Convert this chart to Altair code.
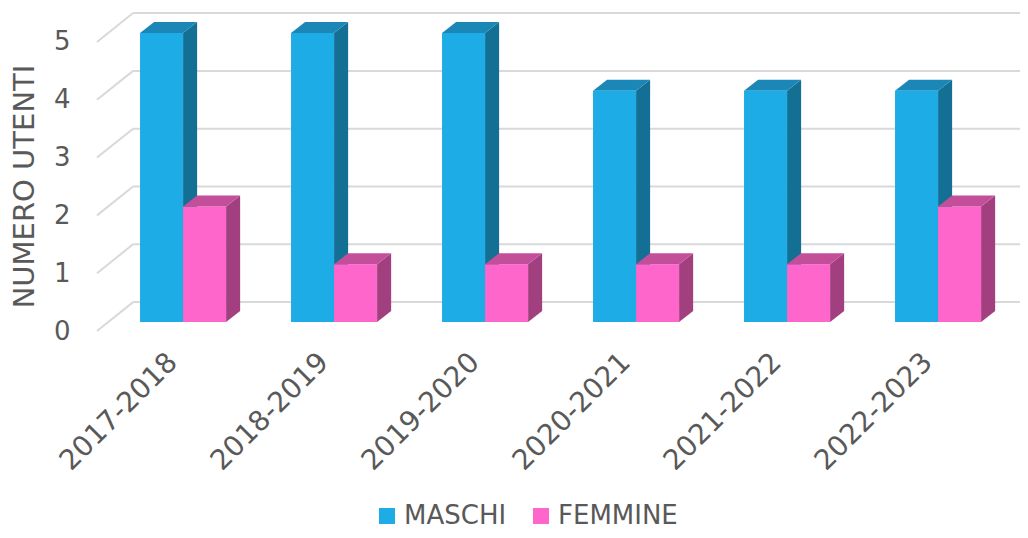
import altair as alt
import pandas as pd

# ---- data -------------------------------------------------------------
categories = ["2017-2018", "2018-2019", "2019-2020", "2020-2021", "2021-2022", "2022-2023"]
maschi = [5, 5, 5, 4, 4, 4]
femmine = [2, 1, 1, 1, 1, 2]
series = ["MASCHI", "FEMMINE"]
tick_values = [0, 1, 2, 3, 4, 5]

# ---- style ------------------------------------------------------------
FONT = "DejaVu Sans"
TEXT = "#595959"
GRID = "#D9D9D9"
FRONT = {"MASCHI": "#1DACE5", "FEMMINE": "#FF66CC"}
SIDE = {"MASCHI": "#136F93", "FEMMINE": "#A2407F"}
TOP = {"MASCHI": "#1A87B6", "FEMMINE": "#C34F9B"}

# 3D geometry, in scale units (x: one unit per category, y: data units)
BAR_W = 0.285
DX = 0.093
DY = 0.19
BASE = 0.156
BACK = 0.5
BACK_X = -0.046
X_MIN, X_MAX = -0.285, 5.8276
Y_MAX = 5.588
LABEL_DX = 0.22
LABEL_Y = -0.47

fronts, sides, tops, labels = [], [], [], []
for i, cat in enumerate(categories):
    labels.append(dict(cat=cat, x=i + LABEL_DX, y=LABEL_Y))
    for j, (s, vals) in enumerate(zip(series, [maschi, femmine])):
        x0 = i + j * BAR_W
        x1 = x0 + BAR_W
        y0 = BASE
        y1 = BASE + vals[i]
        fid = f"{s}-{i}"
        fronts.append(dict(serie=s, cat=cat, valore=vals[i], x0=x0, x1=x1, y0=y0, y1=y1))
        sides += [
            dict(serie=s, face=fid, x=x1, y=y1, y2=y0),
            dict(serie=s, face=fid, x=x1 + DX, y=y1 + DY, y2=y0 + DY),
        ]
        tops += [
            dict(serie=s, face=fid, x=x0, y=y1, y2=y1),
            dict(serie=s, face=fid, x=x0 + DX, y=y1 + DY, y2=y1),
            dict(serie=s, face=fid, x=x1, y=y1 + DY, y2=y1),
            dict(serie=s, face=fid, x=x1 + DX, y=y1 + DY, y2=y1 + DY),
        ]

grid = pd.DataFrame(
    [dict(k=k, xs=X_MIN, ys=k, xb=BACK_X, yb=k + BACK, xe=X_MAX) for k in tick_values]
)
df_front = pd.DataFrame(fronts)
df_side = pd.DataFrame(sides)
df_top = pd.DataFrame(tops)
df_lab = pd.DataFrame(labels)

xs = alt.Scale(domain=[X_MIN, X_MAX], nice=False, zero=False)
ys = alt.Scale(domain=[0, Y_MAX], nice=False, zero=False)

y_axis = alt.Axis(
    values=tick_values, grid=False, domain=False, ticks=False, tickSize=0,
    labelPadding=27, labelFontSize=26, labelFont=FONT, labelColor=TEXT,
    title="NUMERO UTENTI", titleFontSize=29, titleFont=FONT, titleColor=TEXT,
    titleFontWeight="normal", titleAngle=270, titleX=-73, titleY=178,
    titleAlign="center", titleBaseline="middle",
)

grid_back = alt.Chart(grid).mark_rule(color=GRID, strokeWidth=2).encode(
    x=alt.X("xb:Q", scale=xs, axis=None),
    x2="xe:Q",
    y=alt.Y("yb:Q", scale=ys, axis=y_axis),
)
grid_stub = alt.Chart(grid).mark_rule(color=GRID, strokeWidth=2).encode(
    x=alt.X("xs:Q", scale=xs, axis=None),
    x2="xb:Q",
    y=alt.Y("ys:Q", scale=ys, axis=y_axis),
    y2="yb:Q",
)


def face(df, serie, colors):
    return alt.Chart(df[df.serie == serie]).mark_area(
        color=colors[serie], orient="vertical", opacity=1
    ).encode(
        x=alt.X("x:Q", scale=xs, axis=None),
        y=alt.Y("y:Q", scale=ys, axis=y_axis),
        y2="y2:Q",
        detail="face:N",
    )


front = alt.Chart(df_front).mark_bar(opacity=1).encode(
    x=alt.X("x0:Q", scale=xs, axis=None),
    x2="x1:Q",
    y=alt.Y("y0:Q", scale=ys, axis=y_axis),
    y2="y1:Q",
    color=alt.Color(
        "serie:N",
        scale=alt.Scale(domain=series, range=[FRONT[s] for s in series]),
        legend=alt.Legend(
            orient="none", legendX=277, legendY=495, direction="horizontal",
            title=None, symbolType="square", symbolSize=256, symbolStrokeWidth=0,
            labelFontSize=26, labelFont=FONT, labelColor=TEXT, labelOffset=4,
            columnPadding=21, padding=0,
        ),
    ),
    tooltip=["cat:N", "serie:N", "valore:Q"],
)

xlabels = alt.Chart(df_lab).mark_text(
    angle=315, align="right", baseline="middle", fontSize=28, font=FONT, color=TEXT
).encode(
    x=alt.X("x:Q", scale=xs, axis=None),
    y=alt.Y("y:Q", scale=ys, axis=y_axis),
    text="cat:N",
)

chart = alt.layer(
    grid_back,
    grid_stub,
    face(df_side, "MASCHI", SIDE),
    face(df_top, "MASCHI", TOP),
    front,
    face(df_side, "FEMMINE", SIDE),
    face(df_top, "FEMMINE", TOP),
    xlabels,
).properties(
    width=923,
    height=323,
    autosize=alt.AutoSizeParams(type="none"),
    padding={"left": 89, "top": 0, "right": 0, "bottom": 199},
).configure(font=FONT).configure_view(stroke=None)

chart.save("out.html", embed_options={"renderer": "svg", "actions": False})
